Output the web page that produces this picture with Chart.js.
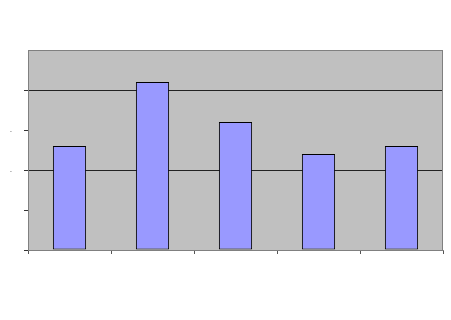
<!DOCTYPE html>
<html>
<head>
<meta charset="utf-8">
<script src="https://cdn.jsdelivr.net/npm/chart.js@4/dist/chart.umd.min.js"></script>
<style>
  html, body { margin: 0; padding: 0; background: #fff; }
  #wrap { width: 451px; height: 320px; }
</style>
</head>
<body>
<div id="wrap"><canvas id="chart" width="451" height="320"></canvas></div>
<script>
// values
const categories = ['1', '2', '3', '4', '5'];
const values = [2.6, 4.2, 3.2, 2.4, 2.6];
const gridValues = [2, 4];
const dotLabels = [2, 3];

// grey plot area with a thin grey border
const plotBg = {
  id: 'plotBg',
  beforeDraw(chart) {
    const { ctx, chartArea: a } = chart;
    ctx.save();
    ctx.fillStyle = '#C0C0C0';
    ctx.fillRect(a.left, a.top, a.right - a.left, a.bottom - a.top);
    ctx.restore();
  },
  afterDraw(chart) {
    const { ctx, chartArea: a } = chart;
    ctx.save();
    ctx.strokeStyle = '#808080';
    ctx.lineWidth = 1;
    ctx.strokeRect(a.left + 0.5, a.top + 0.5, a.right - a.left - 1, a.bottom - a.top);
    ctx.restore();
  }
};

new Chart(document.getElementById('chart'), {
  type: 'bar',
  data: {
    labels: categories,
    datasets: [{
      data: values,
      backgroundColor: '#9999FF',
      borderColor: '#000000',
      borderWidth: 1,
      borderSkipped: false,
      categoryPercentage: 1,
      barPercentage: 0.4
    }]
  },
  options: {
    responsive: false,
    animation: false,
    layout: { padding: { top: 50, right: 8, left: 0, bottom: 0 } },
    plugins: { legend: { display: false }, tooltip: { enabled: false } },
    scales: {
      x: {
        offset: true,
        grid: { offset: true, drawOnChartArea: false, drawTicks: true, tickLength: 4, tickColor: '#555' },
        border: { display: true, color: '#808080' },
        ticks: { callback: () => '' },
        afterFit(s) { s.height = 70; }
      },
      y: {
        min: 0, max: 5,
        grid: {
          color: c => gridValues.includes(c.tick && c.tick.value) ? '#222' : 'rgba(0,0,0,0)',
          tickColor: c => (c.tick && c.tick.value === 5) ? 'rgba(0,0,0,0)' : '#333',
          tickLength: 4
        },
        border: { display: false },
        ticks: {
          stepSize: 1,
          padding: 12,
          color: '#000',
          font: { size: 6, family: 'DejaVu Sans' },
          callback: v => dotLabels.includes(v) ? '.' : ''
        },
        afterFit(s) { s.width = 28; }
      }
    }
  },
  plugins: [plotBg]
});
</script>
</body>
</html>
